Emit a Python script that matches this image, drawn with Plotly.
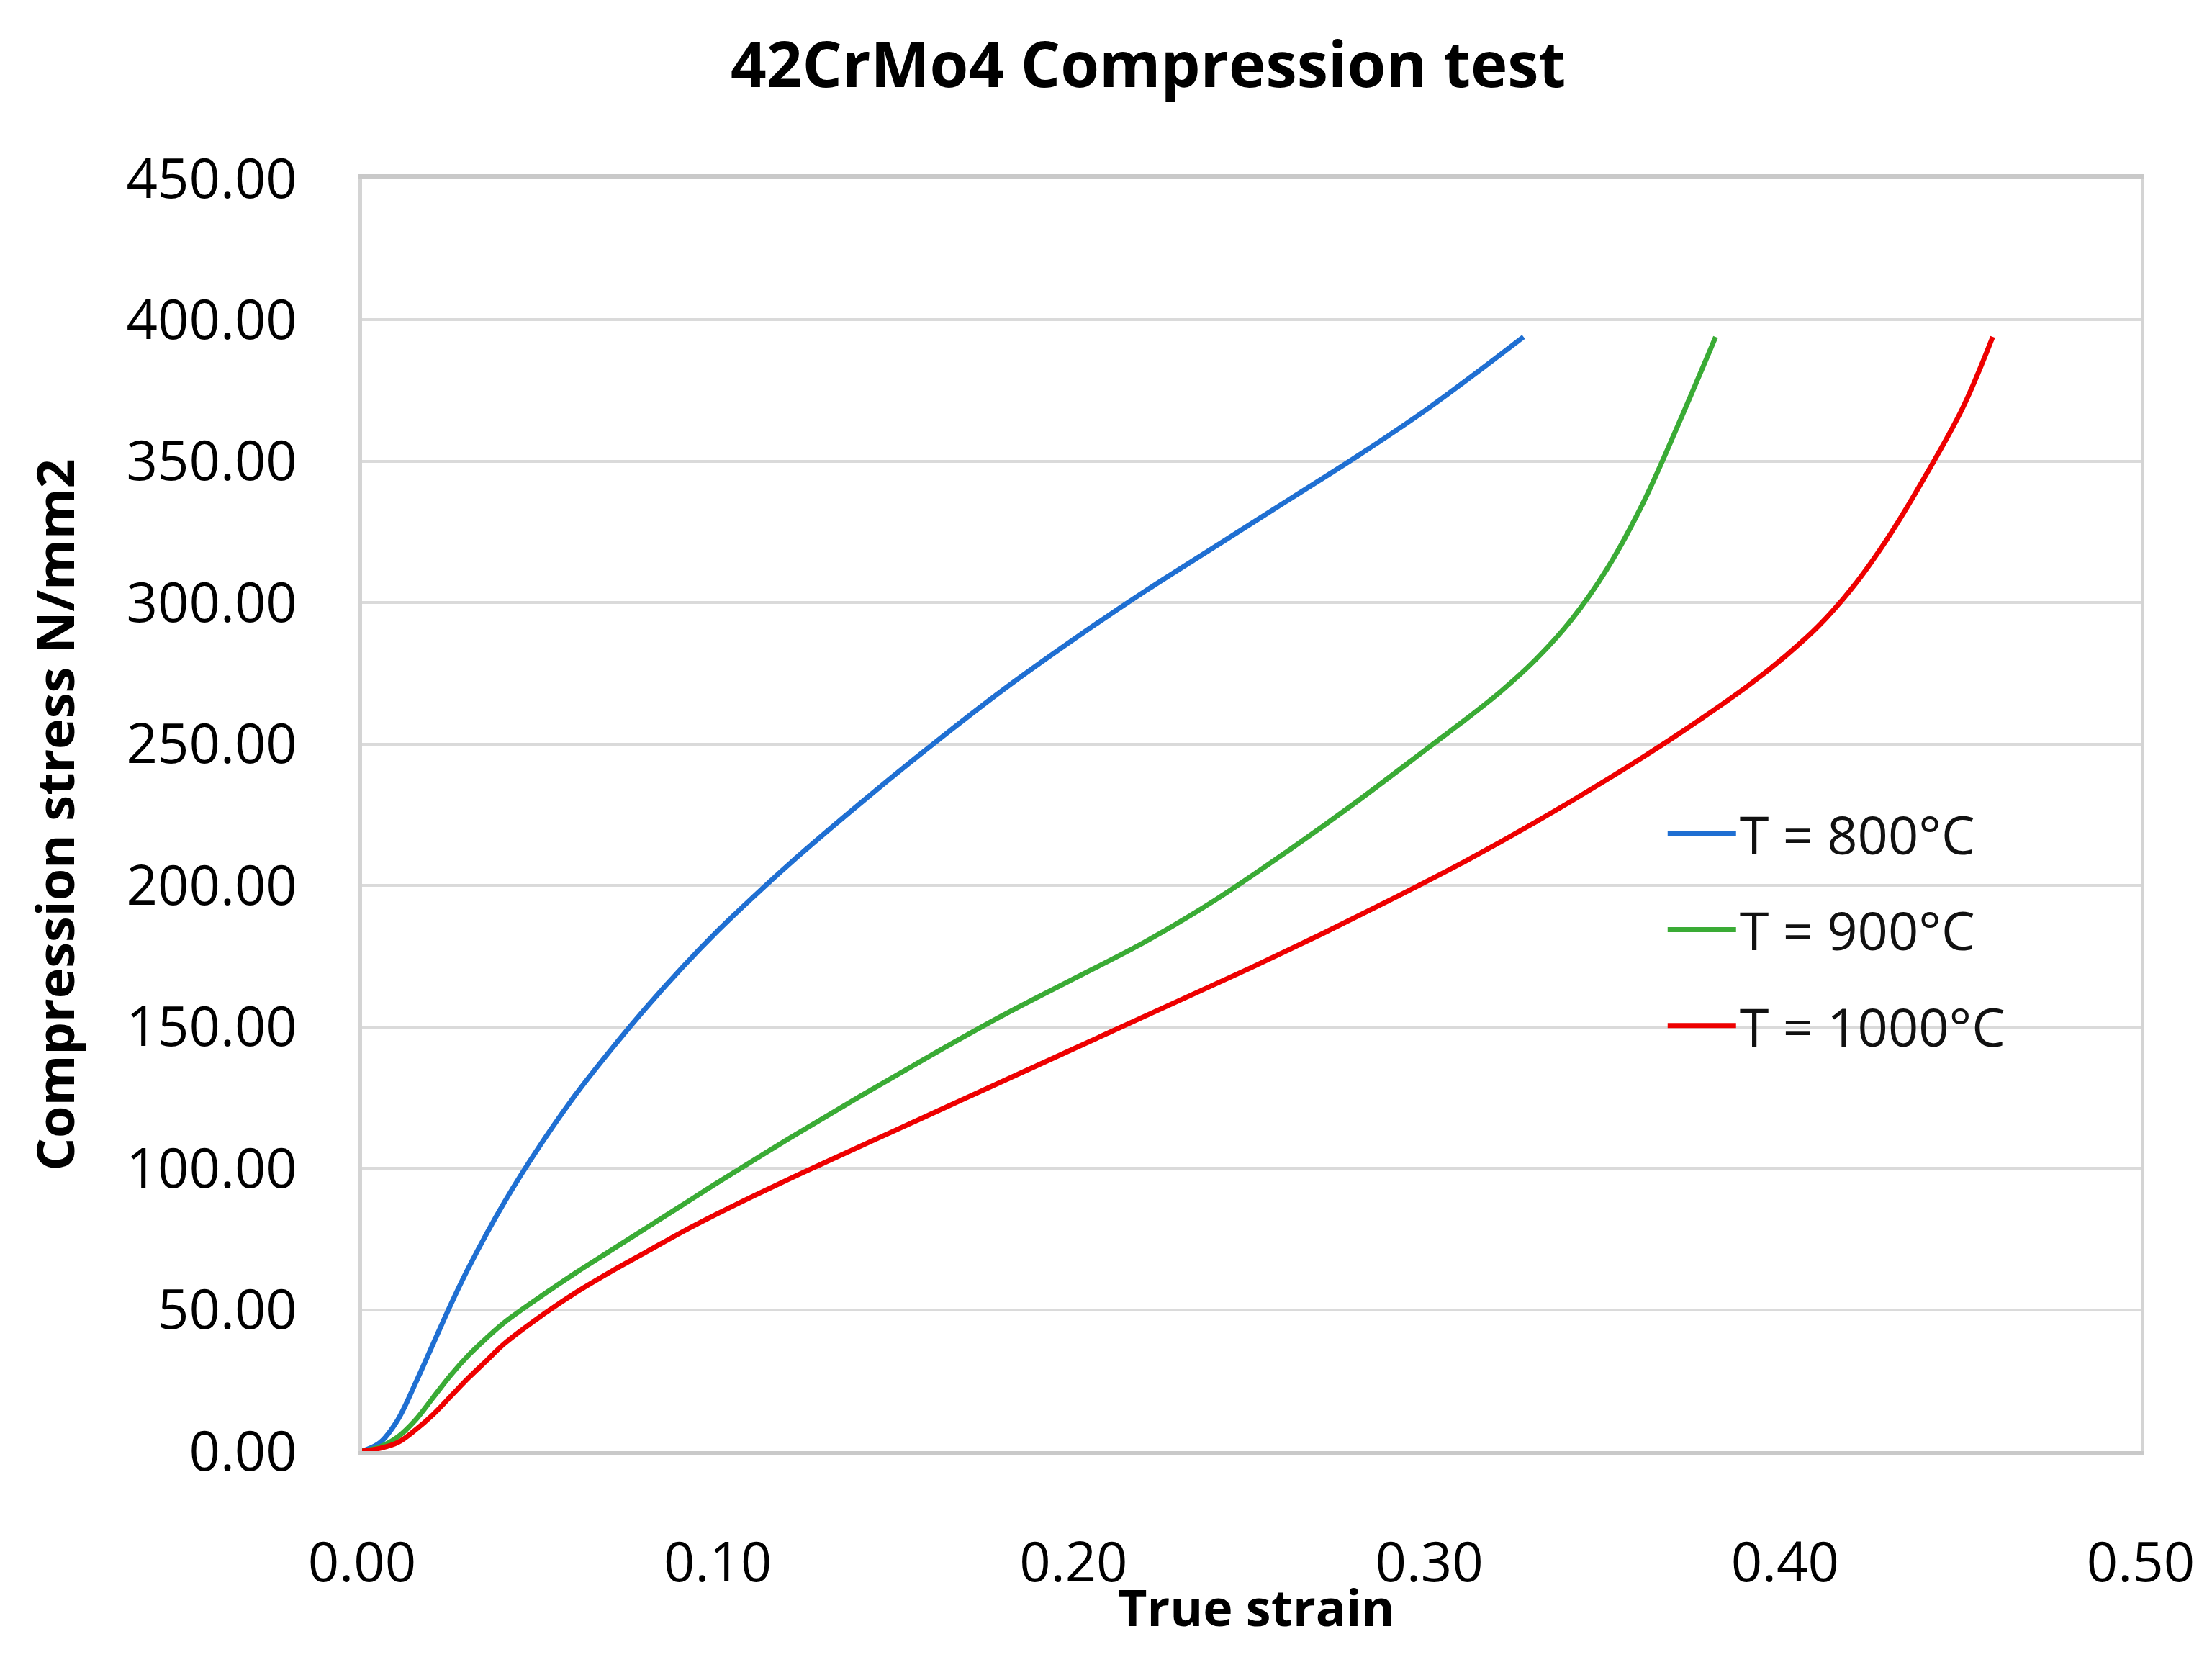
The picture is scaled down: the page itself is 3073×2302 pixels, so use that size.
import plotly.graph_objects as go

# ---- data ----
strain_800 = [0.000, 0.005, 0.010, 0.015, 0.020, 0.025, 0.030, 0.040, 0.050, 0.060,
              0.070, 0.080, 0.090, 0.100, 0.110, 0.120, 0.140, 0.160, 0.180, 0.200,
              0.220, 0.240, 0.260, 0.280, 0.300, 0.3265]
stress_800 = [0, 3, 11, 24, 38, 52, 65, 88, 108, 126,
              142, 157, 171, 184, 196, 207.5, 229, 249.5, 269, 287,
              304, 320, 336, 352, 369, 394]

strain_900 = [0.000, 0.005, 0.010, 0.015, 0.020, 0.025, 0.030, 0.035, 0.040, 0.050,
              0.060, 0.070, 0.080, 0.090, 0.100, 0.120, 0.140, 0.160, 0.180, 0.200,
              0.220, 0.240, 0.260, 0.280, 0.300, 0.310, 0.320, 0.330, 0.340, 0.350,
              0.360, 0.370, 0.3805]
stress_900 = [0, 1.5, 5, 11, 19, 27, 34, 40, 45.5, 54.5,
              63, 71, 79, 87, 95, 110.5, 125.5, 140, 154, 167,
              180, 195, 212, 230, 249, 258.5, 268.5, 280, 294, 312,
              335, 363, 394]

strain_1000 = [0.000, 0.005, 0.010, 0.015, 0.020, 0.025, 0.030, 0.035, 0.040, 0.050,
               0.060, 0.070, 0.080, 0.090, 0.100, 0.110, 0.120, 0.130, 0.150, 0.170,
               0.190, 0.210, 0.230, 0.250, 0.270, 0.290, 0.310, 0.330, 0.350, 0.370,
               0.390, 0.400, 0.410, 0.420, 0.430, 0.440, 0.450, 0.4584]
stress_1000 = [0, 1, 3, 7.5, 13, 19.5, 26, 32, 38, 47.5,
               56, 63.5, 70.5, 77.5, 84, 90.2, 96.2, 102, 113.5, 125,
               136.5, 148, 159.5, 171, 183, 195.5, 208.5, 222.5, 237.5, 253.5,
               271, 281, 292.5, 307, 325, 346, 369, 394]

series_names = ["T = 800°C", "T = 900°C", "T = 1000°C"]
series_colors = ["#1f6fd2", "#3aab35", "#ee0000"]

x_ticks = [0.0, 0.1, 0.2, 0.3, 0.4, 0.5]
y_ticks = [0, 50, 100, 150, 200, 250, 300, 350, 400, 450]

FONT = "Open Sans"

fig = go.Figure()
for i, (xs, ys) in enumerate([(strain_800, stress_800), (strain_900, stress_900),
                              (strain_1000, stress_1000)]):
    fig.add_trace(go.Scatter(
        x=xs, y=ys, mode="lines", name=series_names[i],
        line=dict(color=series_colors[i], width=7, shape="spline", smoothing=1.0),
        legendgroup=f"g{i}",
    ))

fig.update_layout(
    width=3073, height=2302,
    paper_bgcolor="white", plot_bgcolor="white",
    margin=dict(l=495, r=107, t=240, b=294),
    font=dict(family=FONT, color="#000000", size=74),
    title=dict(text="<b>42CrMo4 Compression test</b>", x=0.5165, xanchor="center",
               y=0.964, yanchor="middle", xref="container", yref="container",
               font=dict(family=FONT, size=87, color="#000000")),
    showlegend=True,
    legend=dict(x=0.732, y=0.516, xanchor="left", yanchor="top",
                bgcolor="rgba(0,0,0,0)", borderwidth=0,
                font=dict(family=FONT, size=74, color="#111111"),
                itemwidth=95, tracegroupgap=34, traceorder="grouped"),
    annotations=[dict(text="<b>True strain</b>", xref="paper", yref="paper",
                      x=0.503, y=-0.122, xanchor="center", yanchor="middle",
                      showarrow=False,
                      font=dict(family=FONT, size=70, color="#000000"))],
)

fig.update_xaxes(
    range=[0, 0.5], tickvals=x_ticks, ticktext=[f"{v:.2f}" for v in x_ticks],
    showgrid=False, zeroline=False,
    showline=True, linecolor="#c9c9c9", linewidth=6, mirror=True,
    ticks="", ticklabelstandoff=84,
    tickfont=dict(family=FONT, size=76, color="#000000"),
)
fig.update_yaxes(
    range=[0, 450], tickvals=y_ticks, ticktext=[f"{v:.2f}" for v in y_ticks],
    showgrid=True, gridcolor="#dadada", gridwidth=4, zeroline=False,
    showline=True, linecolor="#d4d4d4", linewidth=5, mirror=True,
    ticks="", ticklabelstandoff=70,
    tickfont=dict(family=FONT, size=76, color="#000000"),
    title=dict(text="<b>Compression stress N/mm2</b>",
               font=dict(family=FONT, size=72, color="#000000"), standoff=50),
)

fig.write_html("out.html")
